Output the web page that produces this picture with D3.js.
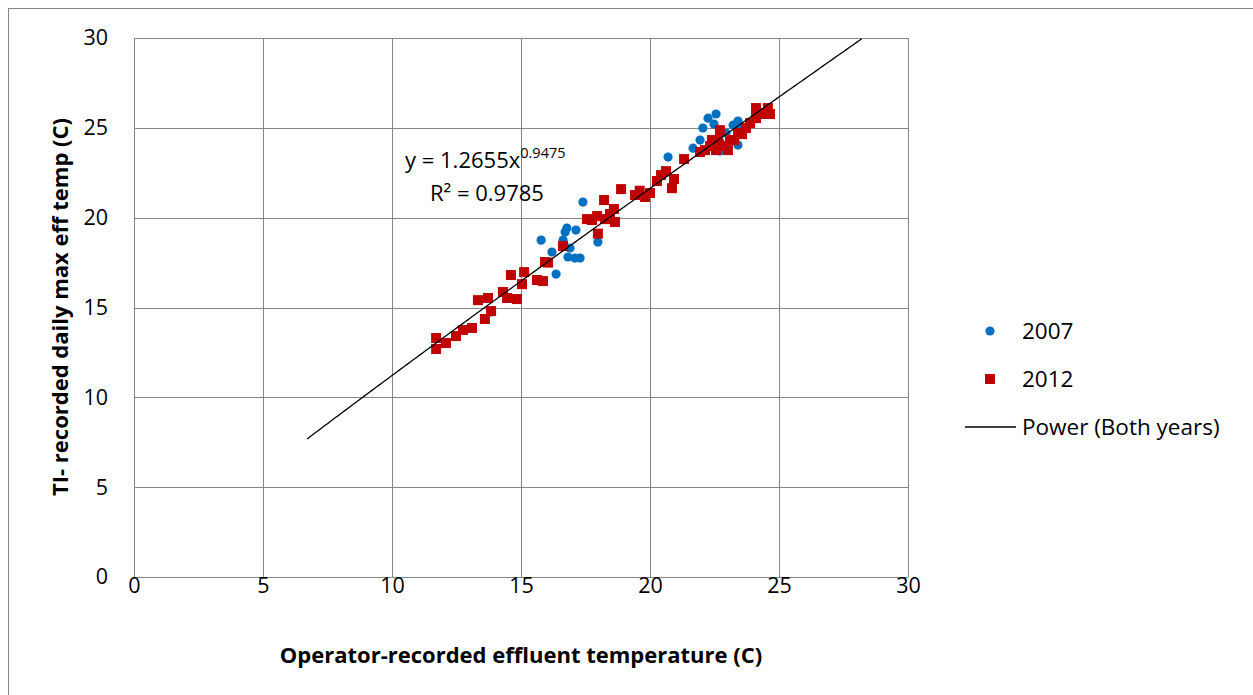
<!DOCTYPE html>
<html>
<head>
<meta charset="utf-8">
<script src="https://cdn.jsdelivr.net/npm/d3@7"></script>
<style>
  html, body { margin: 0; padding: 0; background: #fff; }
  svg { display: block; font-family: "Open Sans", Lato, sans-serif; }
</style>
</head>
<body>
<svg id="chart" width="1253" height="695"></svg>
<script>
// 2007 readings: operator-recorded vs TI-recorded
const x2007 = [17.40, 15.78, 16.63, 16.71, 16.78, 16.90, 17.09, 16.82, 16.20, 16.36, 17.29, 17.98, 17.13, 13.84,
               20.70, 21.67, 21.94, 22.05, 22.25, 22.56, 22.48, 22.71, 22.71, 23.22, 23.41, 23.53, 23.41, 22.95];
const y2007 = [20.87, 18.75, 18.75, 19.20, 19.42, 18.31, 17.75, 17.81, 18.09, 16.86, 17.75, 18.64, 19.31, 14.75,
               23.37, 23.87, 24.32, 24.99, 25.54, 25.77, 25.21, 24.21, 23.71, 25.15, 25.38, 24.99, 24.04, 24.71];

// 2012 readings
const x2012 = [11.71, 11.71, 12.09, 12.48, 12.75, 13.10, 13.33, 13.72, 13.60, 13.84, 14.30, 14.61, 14.46, 14.84,
               15.04, 15.12, 15.62, 15.85, 15.93, 16.05, 16.63, 17.56, 17.95, 18.22, 18.60, 18.64, 18.88, 17.98,
               18.26, 17.75, 18.45, 19.42, 19.81, 20.00, 19.60, 20.27, 20.43, 20.62, 20.85, 20.93, 21.32, 21.94,
               22.13, 22.33, 22.40, 22.56, 22.64, 22.71, 22.87, 23.02, 23.10, 23.26, 23.41, 23.57, 23.72, 23.88,
               24.11, 24.34, 24.50, 24.65, 24.11, 24.57];
const y2012 = [13.30, 12.69, 13.02, 13.41, 13.75, 13.86, 15.41, 15.53, 14.36, 14.80, 15.86, 16.81, 15.53, 15.47,
               16.30, 16.97, 16.53, 16.47, 17.53, 17.50, 18.42, 19.92, 20.09, 20.98, 20.48, 19.76, 21.59, 19.11,
               19.92, 19.87, 20.20, 21.26, 21.15, 21.37, 21.50, 22.04, 22.37, 22.59, 21.64, 22.15, 23.26, 23.65,
               23.76, 23.98, 24.32, 23.76, 24.32, 24.87, 23.98, 23.76, 24.32, 24.32, 24.71, 24.65, 24.99, 25.26,
               25.54, 25.77, 25.82, 25.77, 26.10, 26.10];

// Power fit over both years: y = a * x^b
const fitA = 1.2655, fitB = 0.9475, fitR2 = 0.9785;
const fitRange = [6.71, 28.37];

const xTicks = [0, 5, 10, 15, 20, 25, 30];
const yTicks = [0, 5, 10, 15, 20, 25, 30];
const legendLabels = ["2007", "2012", "Power (Both years)"];

const svg = d3.select("#chart");
const plot = { left: 134, top: 38, right: 908, bottom: 577 };
const x = d3.scaleLinear().domain([0, 30]).range([plot.left, plot.right]);
const y = d3.scaleLinear().domain([0, 30]).range([plot.bottom, plot.top]);
const gridColor = "#868686";
const font = "'Open Sans', Lato, sans-serif";

// outer chart frame
svg.append("rect").attr("x", 8.5).attr("y", 8.5).attr("width", 1260).attr("height", 700)
  .attr("fill", "none").attr("stroke", gridColor).attr("stroke-width", 1);

// gridlines
const grid = svg.append("g");
grid.selectAll(".vx").data(xTicks).join("line")
  .attr("x1", d => Math.round(x(d)) + 0.5).attr("x2", d => Math.round(x(d)) + 0.5)
  .attr("y1", plot.top).attr("y2", plot.bottom)
  .attr("stroke", gridColor).attr("stroke-width", 1);
grid.selectAll(".hy").data(yTicks).join("line")
  .attr("y1", d => Math.round(y(d)) + 0.5).attr("y2", d => Math.round(y(d)) + 0.5)
  .attr("x1", plot.left).attr("x2", plot.right)
  .attr("stroke", gridColor).attr("stroke-width", 1);

// tick labels via d3 axes (axis lines removed, gridlines drawn above)
const xAxis = svg.append("g").attr("transform", `translate(0,${plot.bottom})`)
  .call(d3.axisBottom(x).tickValues(xTicks).tickSize(0).tickPadding(1));
const yAxis = svg.append("g").attr("transform", `translate(${plot.left},0)`)
  .call(d3.axisLeft(y).tickValues(yTicks).tickSize(0).tickPadding(26));
[xAxis, yAxis].forEach(g => {
  g.select(".domain").remove();
  g.selectAll("text").attr("font-family", font)
    .attr("font-size", 21.5).attr("fill", "#000");
});

// 2007 points
svg.append("g").selectAll("circle").data(x2007.map((v, i) => [v, y2007[i]])).join("circle")
  .attr("cx", d => x(d[0])).attr("cy", d => y(d[1])).attr("r", 4.6)
  .attr("fill", "#0070C0");

// 2012 points
const sq = 10;
svg.append("g").selectAll("rect").data(x2012.map((v, i) => [v, y2012[i]])).join("rect")
  .attr("x", d => x(d[0]) - sq / 2).attr("y", d => y(d[1]) - sq / 2)
  .attr("width", sq).attr("height", sq)
  .attr("fill", "#C00000");

// power trendline
const fitPts = d3.range(fitRange[0], fitRange[1] + 0.001, 0.1).map(v => [v, fitA * Math.pow(v, fitB)])
  .filter(d => d[1] <= 30);
svg.append("path").datum(fitPts)
  .attr("d", d3.line().x(d => x(d[0])).y(d => y(d[1])))
  .attr("fill", "none").attr("stroke", "#000").attr("stroke-width", 1.3);

// equation label
const eq = svg.append("text").attr("x", 405).attr("y", 168).attr("font-size", 22).attr("fill", "#000");
eq.append("tspan").text(`y = ${fitA}x`);
eq.append("tspan").attr("dy", -10).attr("font-size", 14.5).text(fitB);
svg.append("text").attr("x", 430).attr("y", 201).attr("font-size", 22).attr("fill", "#000")
  .text(`R² = ${fitR2}`);

// axis titles
svg.append("text").attr("x", 521).attr("y", 663).attr("text-anchor", "middle")
  .attr("font-size", 22).attr("font-weight", "bold").text("Operator-recorded effluent temperature (C)");
svg.append("text").attr("transform", "translate(68,307) rotate(-90)").attr("text-anchor", "middle")
  .attr("font-size", 22).attr("font-weight", "bold").text("TI- recorded daily max eff temp (C)");

// legend
const lg = svg.append("g");
lg.append("circle").attr("cx", 990).attr("cy", 331).attr("r", 4.6).attr("fill", "#0070C0");
lg.append("rect").attr("x", 985).attr("y", 374).attr("width", 10).attr("height", 10).attr("fill", "#C00000");
lg.append("line").attr("x1", 965).attr("x2", 1016).attr("y1", 427).attr("y2", 427)
  .attr("stroke", "#000").attr("stroke-width", 1.3);
const ly = [331, 379, 427];
lg.selectAll("text").data(legendLabels).join("text")
  .attr("x", 1022).attr("y", (d, i) => ly[i]).attr("dy", "0.35em")
  .attr("font-size", 22.5).attr("fill", "#000").text(d => d);
</script>
</body>
</html>
